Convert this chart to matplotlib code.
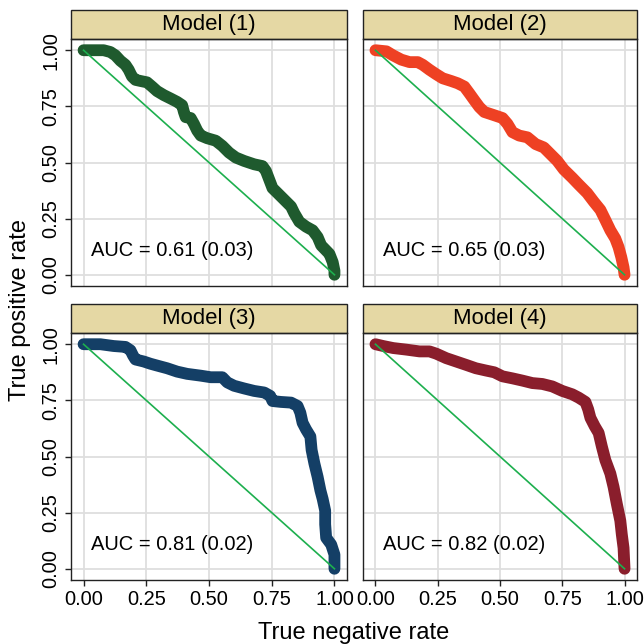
import matplotlib
matplotlib.use("Agg")
import matplotlib.pyplot as plt
from matplotlib.patches import Rectangle

plt.rcParams['font.family'] = ['Liberation Sans', 'DejaVu Sans']

# curve points (true negative rate, true positive rate)
m1_x = [0.0, 0.08, 0.107, 0.127, 0.147, 0.167, 0.18, 0.193, 0.207, 0.227, 0.253, 0.273,
        0.293, 0.32, 0.347, 0.373, 0.393, 0.4, 0.407, 0.427, 0.44, 0.453, 0.467, 0.493,
        0.527, 0.553, 0.58, 0.607, 0.64, 0.68, 0.713, 0.727, 0.74, 0.753, 0.773, 0.8,
        0.827, 0.84, 0.86, 0.887, 0.913, 0.933, 0.947, 0.967, 0.98, 0.993, 1.0, 1.0]
m1_y = [1.0, 1.0, 0.992, 0.977, 0.953, 0.935, 0.913, 0.883, 0.868, 0.863, 0.857, 0.838,
        0.818, 0.8, 0.785, 0.77, 0.755, 0.725, 0.702, 0.698, 0.672, 0.642, 0.62, 0.608,
        0.597, 0.574, 0.544, 0.522, 0.507, 0.492, 0.484, 0.462, 0.424, 0.386, 0.364, 0.334,
        0.304, 0.274, 0.236, 0.214, 0.198, 0.168, 0.131, 0.108, 0.093, 0.056, 0.018, 0.0]

m2_x = [0.0, 0.044, 0.071, 0.104, 0.137, 0.17, 0.19, 0.217, 0.244, 0.27, 0.304, 0.33,
        0.357, 0.377, 0.397, 0.417, 0.437, 0.47, 0.51, 0.53, 0.55, 0.577, 0.61, 0.643,
        0.676, 0.703, 0.73, 0.756, 0.79, 0.816, 0.85, 0.876, 0.903, 0.923, 0.943, 0.963,
        0.976, 0.987, 0.996, 1.0]
m2_y = [1.0, 0.995, 0.977, 0.958, 0.947, 0.947, 0.935, 0.913, 0.893, 0.875, 0.863, 0.853,
        0.838, 0.808, 0.777, 0.747, 0.725, 0.713, 0.698, 0.672, 0.635, 0.62, 0.612, 0.582,
        0.567, 0.537, 0.507, 0.469, 0.432, 0.402, 0.364, 0.326, 0.289, 0.244, 0.198, 0.161,
        0.123, 0.078, 0.033, 0.0]

m3_x = [0.0, 0.067, 0.12, 0.167, 0.187, 0.197, 0.207, 0.24, 0.267, 0.293, 0.333, 0.373,
        0.413, 0.467, 0.507, 0.553, 0.573, 0.6, 0.64, 0.68, 0.72, 0.744, 0.753, 0.787,
        0.827, 0.853, 0.864, 0.873, 0.887, 0.904, 0.909, 0.92, 0.933, 0.944, 0.953, 0.963,
        0.963, 0.967, 0.987, 1.0, 1.0]
m3_y = [1.0, 1.0, 0.992, 0.988, 0.973, 0.95, 0.932, 0.923, 0.913, 0.905, 0.893, 0.878,
        0.868, 0.86, 0.853, 0.853, 0.83, 0.815, 0.803, 0.792, 0.785, 0.77, 0.747, 0.743,
        0.74, 0.725, 0.695, 0.65, 0.62, 0.589, 0.529, 0.469, 0.409, 0.349, 0.311, 0.259,
        0.198, 0.138, 0.108, 0.063, 0.0]

m4_x = [0.0, 0.031, 0.071, 0.124, 0.177, 0.217, 0.244, 0.284, 0.324, 0.364, 0.403, 0.443,
        0.477, 0.51, 0.55, 0.59, 0.63, 0.67, 0.71, 0.75, 0.79, 0.816, 0.843, 0.854, 0.863,
        0.88, 0.896, 0.909, 0.923, 0.943, 0.956, 0.969, 0.983, 0.989, 0.996, 1.0]
m4_y = [1.0, 0.992, 0.983, 0.976, 0.968, 0.968, 0.958, 0.938, 0.923, 0.908, 0.893, 0.883,
        0.875, 0.857, 0.848, 0.838, 0.827, 0.823, 0.812, 0.792, 0.777, 0.762, 0.743, 0.71,
        0.672, 0.635, 0.605, 0.544, 0.484, 0.424, 0.364, 0.289, 0.214, 0.153, 0.093, 0.0]

titles = ['Model (1)', 'Model (2)', 'Model (3)', 'Model (4)']
auc_labels = ['AUC = 0.61 (0.03)', 'AUC = 0.65 (0.03)', 'AUC = 0.81 (0.02)', 'AUC = 0.82 (0.02)']
colors = ['#1F5A2E', '#EE4123', '#143F66', '#8A1E2C']
curves = [(m1_x, m1_y), (m2_x, m2_y), (m3_x, m3_y), (m4_x, m4_y)]
ticks = [0, 0.25, 0.5, 0.75, 1]
tick_labels = ['0.00', '0.25', '0.50', '0.75', '1.00']

fig = plt.figure(figsize=(6.44, 6.44), dpi=100)
W, H = 644, 644
# panel boxes in pixels: left, right, top, bottom
boxes = [(71, 347, 39, 286), (363, 637, 39, 286),
         (71, 347, 333, 580), (363, 637, 333, 580)]
strip_h = 29

for i, (l, r, t, b) in enumerate(boxes):
    ax = fig.add_axes([l / W, 1 - b / H, (r - l) / W, (b - t) / H])
    ax.set_xlim(-0.05, 1.05)
    ax.set_ylim(-0.05, 1.05)
    ax.set_xticks(ticks)
    ax.set_yticks(ticks)
    ax.grid(True, color='#DEDEDE', linewidth=1.3)
    ax.set_axisbelow(True)
    for s in ax.spines.values():
        s.set_color('#222222')
        s.set_linewidth(1.0)
    ax.tick_params(length=4.5, width=1, color='#222222', labelsize=14.4, pad=3)
    if i < 2:
        ax.tick_params(axis='x', length=0, labelbottom=False)
    else:
        ax.set_xticklabels(tick_labels)
    if i % 2 == 1:
        ax.tick_params(axis='y', length=0, labelleft=False)
    else:
        ax.set_yticklabels(tick_labels, rotation=90, va='center')

    cx, cy = curves[i]
    ax.plot(cx, cy, color=colors[i], linewidth=8.5, solid_capstyle='round',
            solid_joinstyle='round', zorder=3)
    ax.plot([0, 1], [1, 0], color='#1DAF4E', linewidth=1.2, zorder=4)
    ax.text(0.03, 0.11, auc_labels[i], fontsize=14.5, ha='left', va='center')

    sh = strip_h / (b - t)
    ax.add_patch(Rectangle((0, 1), 1, sh, transform=ax.transAxes, facecolor='#E5D8A4',
                           edgecolor='#222222', linewidth=1.0, clip_on=False))
    ax.text(0.5, 1 + sh / 2, titles[i], transform=ax.transAxes, fontsize=15.9,
            ha='center', va='center')

fig.text(20 / W, 1 - 310 / H, 'True positive rate', rotation=90, fontsize=17,
         ha='center', va='center')
fig.text(354 / W, 1 - 633 / H, 'True negative rate', fontsize=17,
         ha='center', va='center')

fig.savefig('out.png', dpi=100)
